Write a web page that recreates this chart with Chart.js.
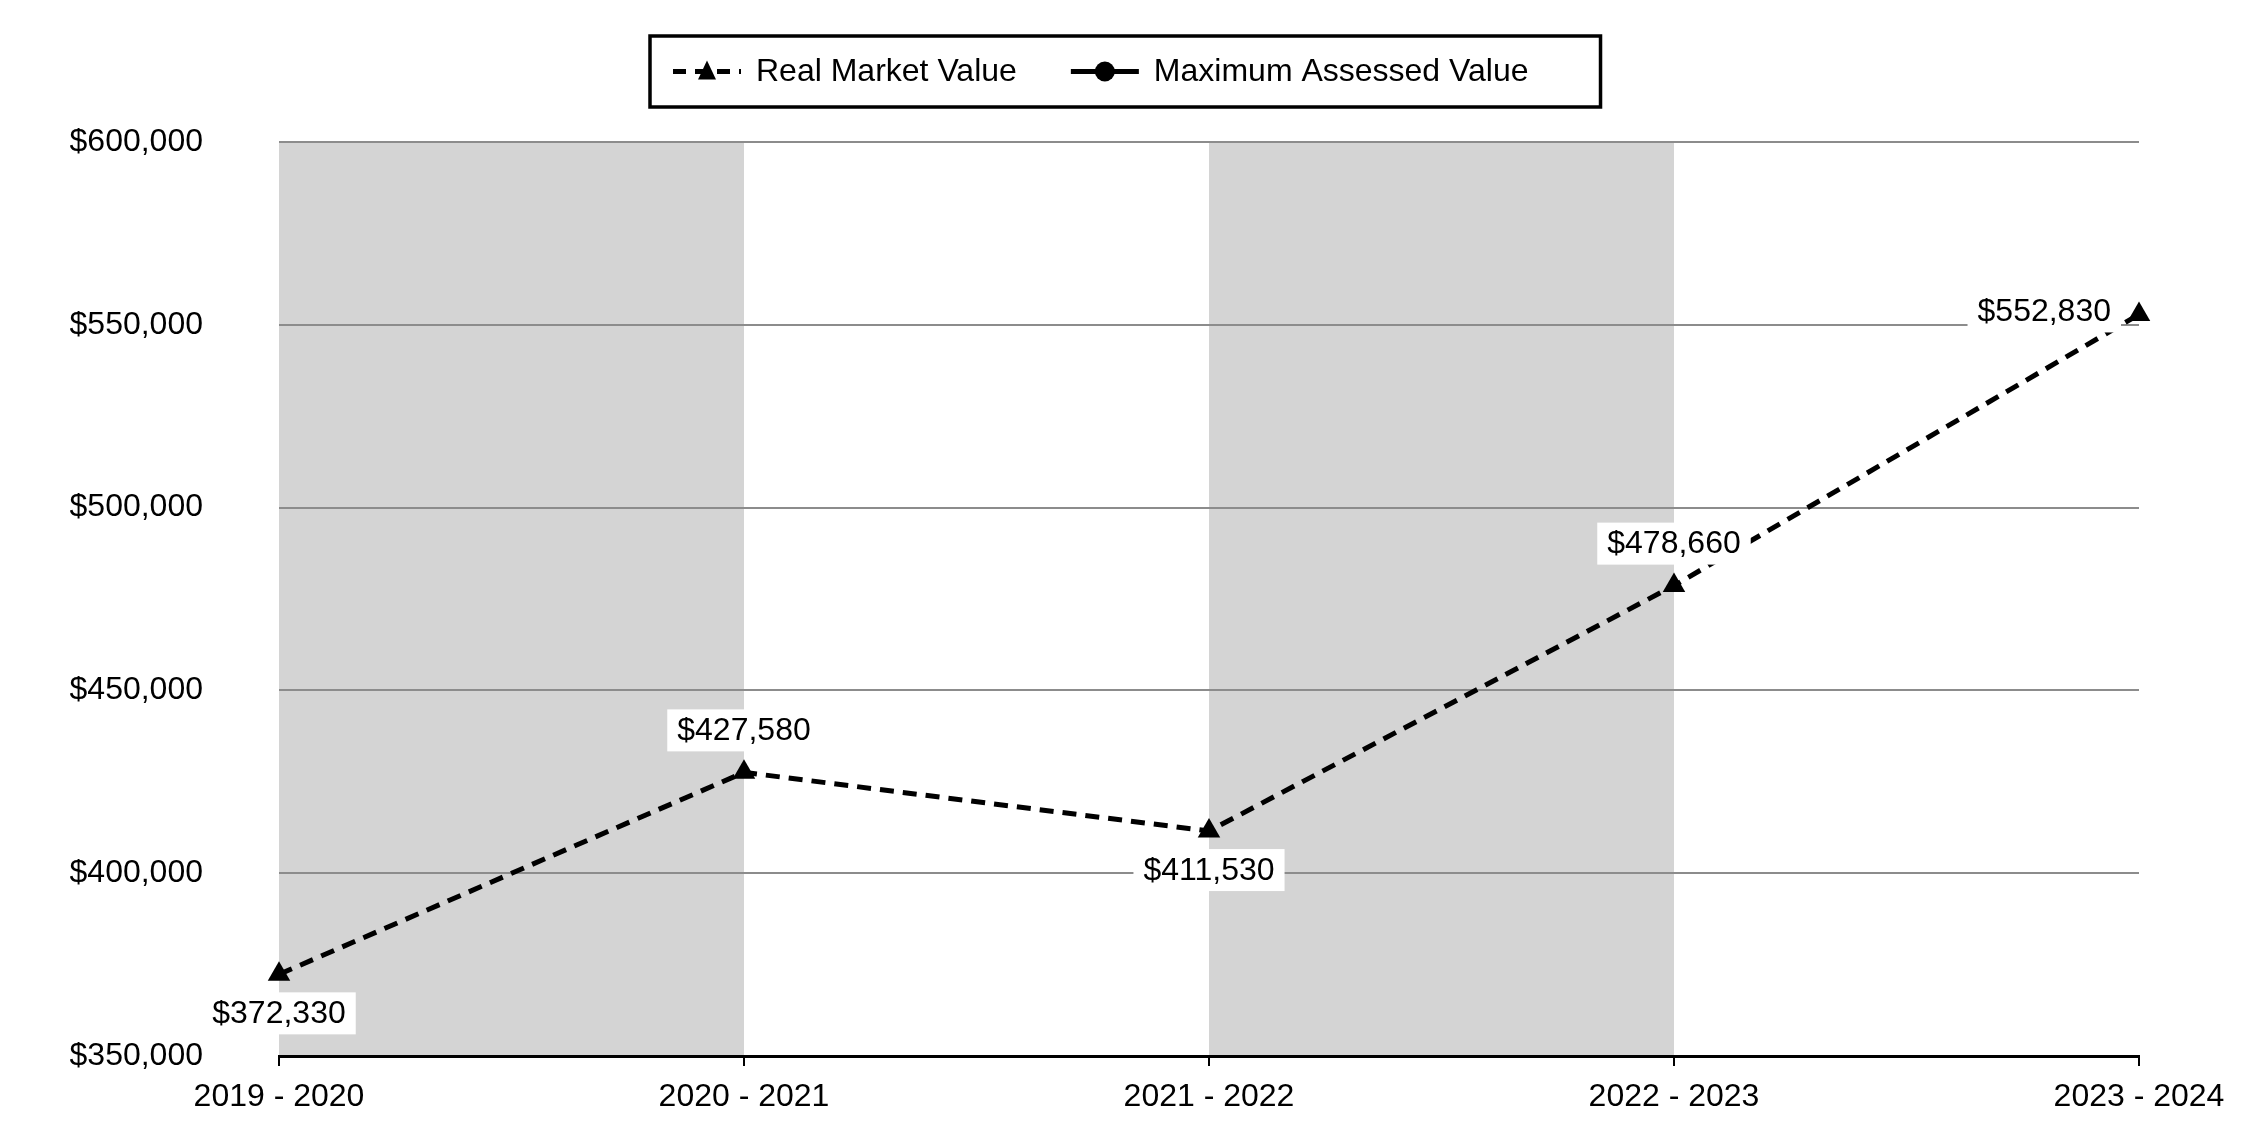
<!DOCTYPE html>
<html>
<head>
<meta charset="utf-8">
<script src="https://cdn.jsdelivr.net/npm/chart.js@4.4.0/dist/chart.umd.min.js"></script>
<style>
  html, body { margin: 0; padding: 0; background: #fff; }
  canvas { display: block; }
</style>
</head>
<body>
<canvas id="chart" width="2250" height="1140"></canvas>
<script>
// data
const years = ["2019 - 2020", "2020 - 2021", "2021 - 2022", "2022 - 2023", "2023 - 2024"];
const realMarketValue = [372330, 427580, 411530, 478660, 552830];
const maxAssessedValue = [null, null, null, null, null];
const yTicks = [350000, 400000, 450000, 500000, 550000, 600000];

// where each value label sits relative to its point
const labelSide = ["below", "above", "below", "above", "left"];
// shaded columns (index ranges)
const bands = [[0, 1], [2, 3]];

const FONT = "Liberation Sans, Arial, sans-serif";
const money = v => "$" + v.toLocaleString("en-US");

const bandPlugin = {
  id: "bands",
  beforeDraw(chart) {
    const { ctx, chartArea: a, scales: { x } } = chart;
    ctx.save();
    ctx.fillStyle = "#d4d4d4";
    bands.forEach(([i, j]) => {
      const x0 = x.getPixelForValue(i), x1 = x.getPixelForValue(j);
      ctx.fillRect(x0, a.top, x1 - x0, a.bottom - a.top);
    });
    ctx.restore();
  }
};

const valueLabels = {
  id: "valueLabels",
  afterDatasetsDraw(chart) {
    const ctx = chart.ctx;
    const meta = chart.getDatasetMeta(0);
    ctx.save();
    ctx.font = "32px " + FONT;
    ctx.textBaseline = "middle";
    meta.data.forEach((pt, i) => {
      const txt = money(realMarketValue[i]);
      const w = ctx.measureText(txt).width;
      let cx = pt.x, cy = pt.y;
      if (labelSide[i] === "below") cy = pt.y + 39;
      if (labelSide[i] === "above") cy = pt.y - 42;
      if (labelSide[i] === "left") { cx = pt.x - 28 - w / 2; cy = pt.y - 3; }
      ctx.fillStyle = "#fff";
      ctx.fillRect(cx - w / 2 - 10, cy - 21, w + 20, 42);
      ctx.fillStyle = "#000";
      ctx.textAlign = "center";
      ctx.fillText(txt, cx, cy + 1);
    });
    ctx.restore();
  }
};

const boxLegend = {
  id: "boxLegend",
  afterDraw(chart) {
    const ctx = chart.ctx;
    const items = chart.data.datasets;
    ctx.save();
    ctx.font = "32px " + FONT;
    const sample = 68, gapText = 15, gapItem = 54, padL = 23, padR = 72;
    const widths = items.map(d => ctx.measureText(d.label).width);
    let total = padL + padR;
    widths.forEach((w, i) => { total += sample + gapText + w + (i ? gapItem : 0); });
    const top = 36, h = 71;
    const left = Math.round(chart.width / 2 - total / 2);
    ctx.lineWidth = 3.5;
    ctx.strokeStyle = "#000";
    ctx.strokeRect(left, top, total, h);
    const cy = top + h / 2;
    let x = left + padL;
    items.forEach((d, i) => {
      if (i) x += gapItem;
      ctx.strokeStyle = "#000";
      ctx.lineWidth = 5;
      ctx.setLineDash(d.borderDash ? [13, 9] : []);
      ctx.beginPath();
      ctx.moveTo(x, cy);
      ctx.lineTo(x + sample, cy);
      ctx.stroke();
      ctx.setLineDash([]);
      ctx.fillStyle = "#000";
      const mx = x + sample / 2;
      ctx.beginPath();
      if (d.pointStyle === "triangle") {
        ctx.moveTo(mx, cy - 11);
        ctx.lineTo(mx + 9, cy + 8);
        ctx.lineTo(mx - 9, cy + 8);
        ctx.closePath();
      } else {
        ctx.arc(mx, cy, 10, 0, Math.PI * 2);
      }
      ctx.fill();
      x += sample + gapText;
      ctx.textBaseline = "middle";
      ctx.textAlign = "left";
      ctx.fillText(d.label, x, cy + 1);
      x += widths[i];
    });
    ctx.restore();
  }
};

new Chart(document.getElementById("chart").getContext("2d"), {
  type: "line",
  data: {
    labels: years,
    datasets: [{
      label: "Real Market Value",
      data: realMarketValue,
      borderColor: "#000",
      backgroundColor: "#000",
      borderWidth: 5,
      borderDash: [14, 9],
      pointStyle: "triangle",
      pointRadius: 13,
      pointBorderWidth: 0,
      tension: 0
    }, {
      label: "Maximum Assessed Value",
      data: maxAssessedValue,
      borderColor: "#000",
      backgroundColor: "#000",
      borderWidth: 5,
      pointStyle: "circle",
      pointRadius: 9
    }]
  },
  options: {
    responsive: false,
    animation: false,
    devicePixelRatio: 1,
    layout: { padding: { top: 142, left: 70, right: 111, bottom: 0 } },
    plugins: { legend: { display: false }, tooltip: { enabled: false } },
    scales: {
      x: {
        offset: false,
        afterFit: s => { s.paddingLeft = 0; s.paddingRight = 0; s.height = 84; },
        grid: { drawOnChartArea: false, drawTicks: true, tickLength: 10, color: "#000", lineWidth: 2 },
        border: { display: true, color: "#000", width: 3 },
        ticks: { color: "#000", font: { size: 32, family: FONT }, padding: 12, maxRotation: 0 }
      },
      y: {
        min: 350000,
        max: 600000,
        afterBuildTicks: axis => { axis.ticks = yTicks.map(v => ({ value: v })); },
        afterFit: s => { s.width = 209; s.paddingTop = 0; s.paddingBottom = 0; },
        grid: { drawTicks: false, color: "#8c8c8c", lineWidth: 2 },
        border: { display: false },
        ticks: { color: "#000", font: { size: 32, family: FONT }, padding: 76, callback: v => money(v) }
      }
    }
  },
  plugins: [bandPlugin, valueLabels, boxLegend]
});
</script>
</body>
</html>
